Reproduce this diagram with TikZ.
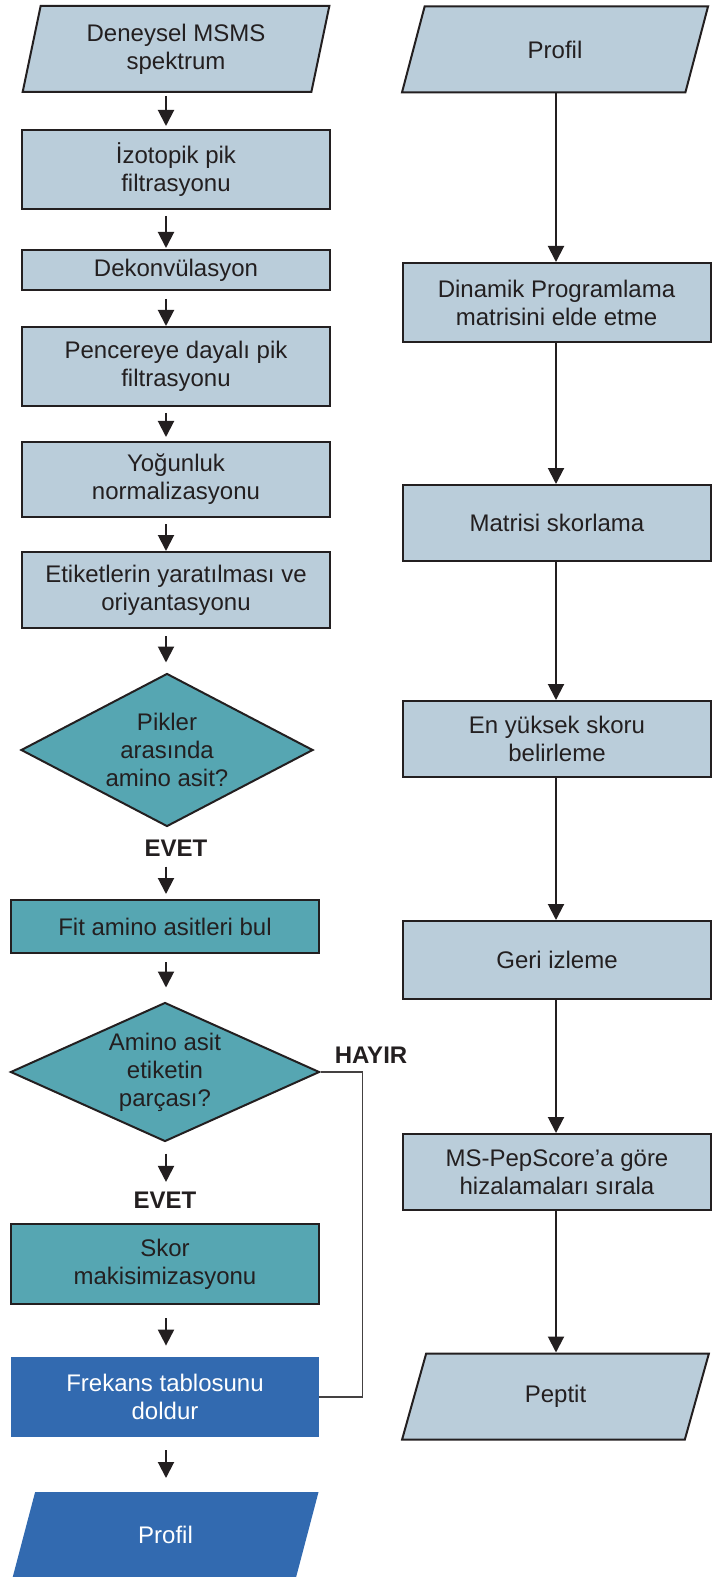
\documentclass[tikz,border=0pt]{standalone}
\usepackage{fontspec}
\setmainfont{Liberation Sans}
\usetikzlibrary{arrows.meta, shapes.geometric, positioning, calc}
\definecolor{boxgray}{RGB}{186,205,218}
\definecolor{boxteal}{RGB}{86,166,178}
\definecolor{boxblue}{RGB}{50,106,176}
\definecolor{inkdark}{RGB}{35,31,32}

\begin{document}
\begin{tikzpicture}[x=0.5pt, y=-0.5pt,
    every node/.style={font=\fontsize{12}{14}\selectfont, text=inkdark, align=center, inner sep=2pt},
    proc/.style={rectangle, draw=inkdark, line width=1pt, fill=boxgray, minimum width=154pt},
    tealproc/.style={proc, fill=boxteal},
    blueproc/.style={rectangle, fill=boxblue, text=white, minimum width=154pt},
    io/.style={trapezium, trapezium left angle=78, trapezium right angle=102, trapezium stretches=true,
        draw=inkdark, line width=1pt, fill=boxgray, minimum width=153.5pt, minimum height=43pt},
    decision/.style={diamond, aspect=2.1, draw=inkdark, line width=1pt, fill=boxteal, inner sep=0pt},
    answer/.style={font=\fontsize{12}{14}\selectfont\bfseries},
    arr/.style={-{Triangle[length=8pt,width=8pt]}, line width=1pt, draw=inkdark},
    backline/.style={line width=0.7pt, draw=inkdark!85}]
    \useasboundingbox (0,0) rectangle (716,1577);
    \coordinate (lx) at (166,0);
    \coordinate (rx) at (556,0);

    % left column
    \node[io] (spec) at (176,49) {Deneysel MSMS\\spektrum};
    \node[proc, minimum height=39.5pt] (izo) at (176,169.5) {İzotopik pik\\filtrasyonu};
    \node[proc, minimum height=20pt] (dek) at (176,270) {Dekonvülasyon};
    \node[proc, minimum height=39.5pt] (pen) at (176,366.5) {Pencereye dayalı pik\\filtrasyonu};
    \node[proc, minimum height=37.5pt] (yog) at (176,479.5) {Yoğunluk\\normalizasyonu};
    \node[proc, minimum height=38pt] (eti) at (176,590) {Etiketlerin yaratılması ve\\oriyantasyonu};
    \node[decision, minimum width=146pt, minimum height=76.5pt] (d1) at (167,750) {Pikler\\arasında\\amino asit?};
    \node[answer] (evet1) at (176,848) {EVET};
    \node[tealproc, minimum height=26.5pt] (fit) at (165,926.5) {Fit amino asitleri bul};
    \node[decision, minimum width=154.5pt, minimum height=69.5pt] (d2) at (165,1072) {Amino asit\\etiketin\\parçası?};
    \node[answer] (hayir) at (371,1055) {HAYIR};
    \node[answer] (evet2) at (165,1200) {EVET};
    \node[tealproc, minimum height=40pt] (skor) at (165,1264) {Skor\\makisimizasyonu};
    \node[blueproc, minimum height=40pt] (fre) at (165,1397) {Frekans tablosunu\\doldur};
    \node[io, draw=none, fill=boxblue, text=white] (prof2) at (165.5,1535) {Profil};

    \draw[arr, shorten <=1.5pt, shorten >=1.5pt] (spec.south -| lx) -- (izo.north -| lx);
    \draw[arr, shorten <=3pt, shorten >=0.5pt] (izo.south -| lx) -- (dek.north -| lx);
    \draw[arr, shorten <=4pt] (dek.south -| lx) -- (pen.north -| lx);
    \draw[arr, shorten <=3pt, shorten >=2pt] (pen.south -| lx) -- (yog.north -| lx);
    \draw[arr, shorten <=3pt] (yog.south -| lx) -- (eti.north -| lx);
    \draw[arr, shorten <=3.5pt, shorten >=5pt] (eti.south -| lx) -- (d1.north -| lx);
    \draw[arr, shorten <=3pt, shorten >=2.5pt] (evet1.south -| lx) -- (fit.north -| lx);
    \draw[arr, shorten <=4pt, shorten >=7pt] (fit.south -| lx) -- (d2.north -| lx);
    \draw[arr, shorten <=5.5pt, shorten >=2.7pt] (d2.south -| lx) -- (evet2.north -| lx);
    \draw[arr, shorten <=6.5pt, shorten >=5.5pt] (skor.south -| lx) -- (fre.north -| lx);
    \draw[arr, shorten <=6.5pt, shorten >=6.5pt] (fre.south -| lx) -- (prof2.north -| lx);
    \draw[backline] (d2.east) -- ++(42,0) |- (fre.east);

    % right column
    \node[io] (prof1) at (555,49.5) {Profil};
    \node[proc, minimum height=39.5pt] (dpm) at (556.5,302.5) {Dinamik Programlama\\matrisini elde etme};
    \node[proc, minimum height=38pt] (mat) at (557,523) {Matrisi skorlama};
    \node[proc, minimum height=38pt] (eny) at (557,739) {En yüksek skoru\\belirleme};
    \node[proc, minimum height=39pt] (geri) at (557,960) {Geri izleme};
    \node[proc, minimum height=38pt] (msp) at (557,1172) {MS-PepScore’a göre\\hizalamaları sırala};
    \node[io] (pep) at (555.5,1396.5) {Peptit};

    \draw[arr] (prof1.south -| rx) -- (dpm.north -| rx);
    \draw[arr] (dpm.south -| rx) -- (mat.north -| rx);
    \draw[arr] (mat.south -| rx) -- (eny.north -| rx);
    \draw[arr] (eny.south -| rx) -- (geri.north -| rx);
    \draw[arr] (geri.south -| rx) -- (msp.north -| rx);
    \draw[arr] (msp.south -| rx) -- (pep.north -| rx);
\end{tikzpicture}
\end{document}
